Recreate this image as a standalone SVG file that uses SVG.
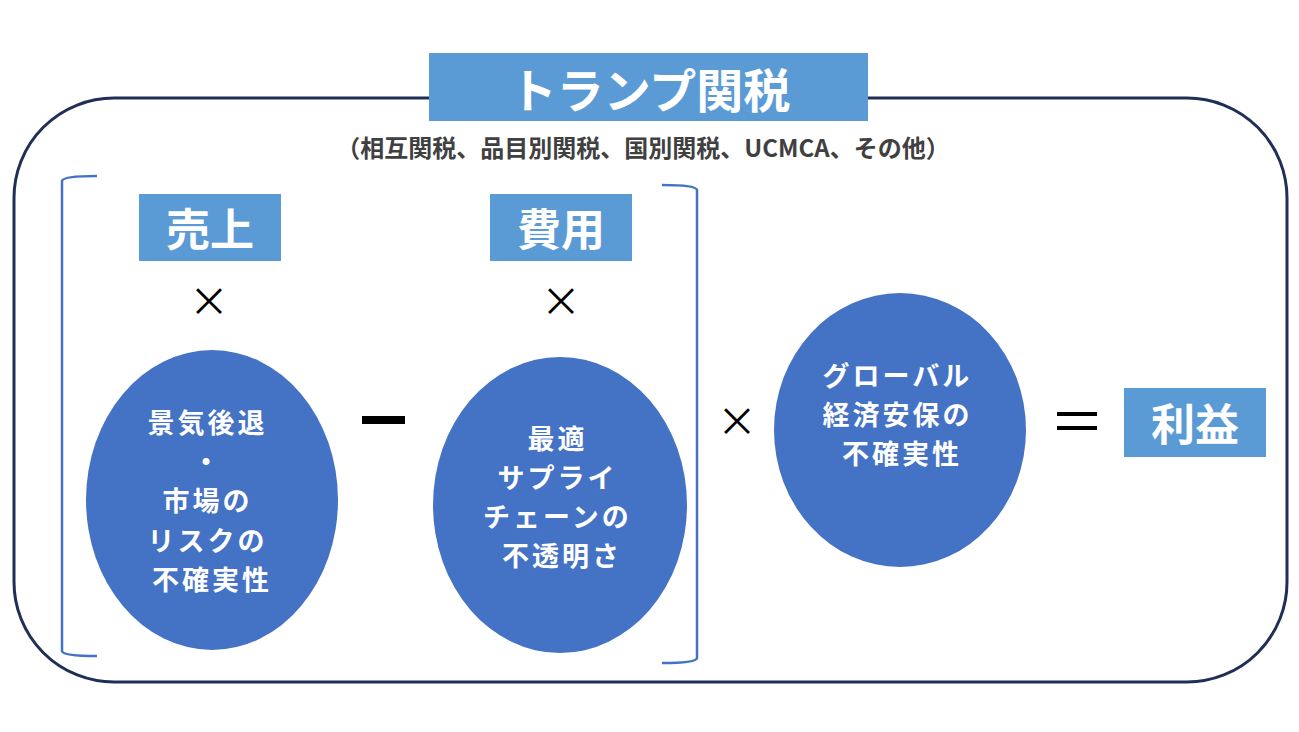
<svg xmlns="http://www.w3.org/2000/svg" width="1299" height="732" viewBox="0 0 1299 732">
<style>
.lbl{fill:#5B9BD5}
.ell{fill:#4472C4}
.wt{fill:#FFFFFF;font-family:"Noto Sans CJK JP","Noto Sans",sans-serif;font-weight:700;text-anchor:middle;dominant-baseline:central}
.et{font-size:27px;letter-spacing:3px}
.op{fill:#000000;font-family:"Noto Sans CJK JP","Noto Sans",sans-serif;text-anchor:middle;dominant-baseline:central}
.brk{fill:none;stroke:#4472C4;stroke-width:2.5}
</style>
<rect width="1299" height="732" fill="#FFFFFF"/>
<g id="frame">
<rect x="14" y="98" width="1273" height="584" rx="100" ry="100" fill="none" stroke="#1F2F55" stroke-width="3"/>
</g>
<g id="title">
<rect x="429" y="53" width="439" height="68" class="lbl"/>
<text x="650" y="87" class="wt" font-size="47">トランプ関税</text>
</g>
<g id="subtitle">
<text x="643" y="146" font-family="'Noto Sans CJK JP','Noto Sans',sans-serif" font-weight="700" font-size="24" fill="#404040" text-anchor="middle" dominant-baseline="central">（相互関税、品目別関税、国別関税、UCMCA、その他）</text>
</g>
<g id="brackets">
<path class="brk" d="M97,176 Q63,176 62,181 L62,651 Q63,656 97,656"/>
<path class="brk" d="M662,185 Q696,185 697,190 L697,658 Q696,663 662,663"/>
</g>
<g id="sales">
<rect x="139" y="194" width="142" height="67" class="lbl"/>
<text x="210" y="227" class="wt" font-size="44">売上</text>
</g>
<g id="cost">
<rect x="490" y="194" width="142" height="67" class="lbl"/>
<text x="561" y="227" class="wt" font-size="44">費用</text>
</g>
<g id="profit">
<rect x="1124" y="388" width="142" height="69" class="lbl"/>
<text x="1195" y="422" class="wt" font-size="44">利益</text>
</g>
<g id="node-recession">
<ellipse cx="212" cy="500" rx="126" ry="150" class="ell"/>
<text class="wt et">
<tspan x="212" y="421">景気後退</tspan>
<tspan x="212" y="460">・</tspan>
<tspan x="212" y="499">市場の</tspan>
<tspan x="212" y="539">リスクの</tspan>
<tspan x="212" y="578">不確実性</tspan>
</text>
</g>
<g id="node-supply">
<ellipse cx="560" cy="505" rx="127" ry="148" class="ell"/>
<text class="wt et">
<tspan x="562" y="437">最適</tspan>
<tspan x="562" y="476">サプライ</tspan>
<tspan x="562" y="515">チェーンの</tspan>
<tspan x="562" y="554">不透明さ</tspan>
</text>
</g>
<g id="node-global">
<ellipse cx="900" cy="430" rx="126" ry="137" class="ell"/>
<text class="wt et">
<tspan x="902" y="374">グローバル</tspan>
<tspan x="902" y="413">経済安保の</tspan>
<tspan x="902" y="452">不確実性</tspan>
</text>
</g>
<g id="operators">
<text x="209" y="299" class="op" font-size="40">×</text>
<text x="561" y="299" class="op" font-size="40">×</text>
<text x="737" y="419" class="op" font-size="40">×</text>
<rect x="362" y="416" width="43" height="8" fill="#000000"/>
<rect x="1057" y="412" width="40" height="4" fill="#000000"/>
<rect x="1057" y="426" width="40" height="4" fill="#000000"/>
</g>
</svg>
